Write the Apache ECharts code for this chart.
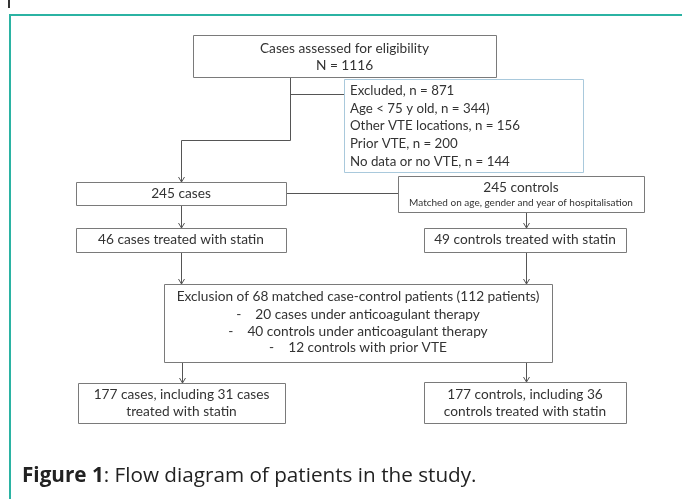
<!DOCTYPE html>
<html><head><meta charset="utf-8">
<script src="https://cdn.jsdelivr.net/npm/echarts@6/dist/echarts.min.js"></script>
<style>html,body{margin:0;padding:0;background:#fff}#c{width:682px;height:499px}</style>
</head><body><div id="c"></div>
<script>
// ---- content (text data) ----
var topBox = ["Cases assessed for eligibility", "N = 1116"];
var excludedLines = ["Excluded, n = 871", "Age < 75 y old, n = 344)", "Other VTE locations, n = 156", "Prior VTE, n = 200", "No data or no VTE, n = 144"];
var casesBox = ["245 cases"];
var controlsBox = ["245 controls"];
var controlsNote = "Matched on age, gender and year of hospitalisation";
var casesStatin = ["46 cases treated with statin"];
var controlsStatin = ["49 controls treated with statin"];
var exclusionLines = ["Exclusion of 68 matched case-control patients (112 patients)", "-    20 cases under anticoagulant therapy", "-    40 controls under anticoagulant therapy", "-    12 controls with prior VTE"];
var finalCases = ["177 cases, including 31 cases", "treated with statin"];
var finalControls = ["177 controls, including 36", "controls treated with statin"];
var captionBold = "Figure 1";
var captionRest = ": Flow diagram of patients in the study.";

// ---- layout ----
var FONT = "Lato, 'Open Sans', sans-serif";
var CAPFONT = "'Open Sans', Lato, sans-serif";
var TXT = "#333333", BOX = "#7a7a7a", LINE = "#555555";
var FS = 13.7;
var g = [];
function rect(x1,y1,x2,y2,stroke){
  g.push({type:'rect',shape:{x:x1+0.5,y:y1+0.5,width:x2-x1,height:y2-y1},style:{fill:'#fff',stroke:stroke||BOX,lineWidth:1},z:2});
}
function text(t,x,y,size,align,color,weight){
  g.push({type:'text',x:x,y:y,style:{text:t,font:(weight||'normal')+' '+size+'px '+FONT,fill:color||TXT,align:align||'center',verticalAlign:'middle'},z:3});
}
function lines(arr,x,ys,size,align){ arr.forEach(function(t,i){ text(t,x,ys[i],size,align); }); }
function poly(pts){ g.push({type:'polyline',shape:{points:pts.map(function(p){return [p[0]+0.5,p[1]+0.5];})},style:{stroke:LINE,lineWidth:1,fill:null},z:1}); }
function arrow(x,y){ // arrow tip at (x,y) pointing down
  g.push({type:'polyline',shape:{points:[[x-3+0.5,y-5],[x+0.5,y],[x+3+0.5,y-5]]},style:{stroke:LINE,lineWidth:1,fill:null},z:4});
}

// frame
g.push({type:'line',shape:{x1:10,y1:15,x2:10,y2:499},style:{stroke:'#2bb3a3',lineWidth:2},z:0});
g.push({type:'line',shape:{x1:9,y1:15,x2:682,y2:15},style:{stroke:'#2bb3a3',lineWidth:2},z:0});
g.push({type:'line',shape:{x1:9,y1:0,x2:9,y2:8},style:{stroke:'#333',lineWidth:2},z:0});

// connectors
poly([[290,77],[290,140],[181,140],[181,182]]); arrow(181,182);
poly([[290,94],[344,94]]);
poly([[286,193],[398,193]]);
poly([[181,205],[181,228]]); arrow(181,228);
poly([[526,212],[526,228]]); arrow(526,228);
poly([[181,252],[181,284]]); arrow(181,284);
poly([[526,252],[526,284]]); arrow(526,284);
poly([[182,362],[182,383]]); arrow(182,383);
poly([[526,362],[526,382]]); arrow(526,382);

// boxes
rect(193,35,496,77); lines(topBox,344.5,[49,66],FS);
rect(344,79,583,172,'#a9c9dc'); lines(excludedLines,350,[91,108.5,126,144,162],13.3,'left');
rect(76,182,286,205); lines(casesBox,181,[194],FS);
rect(398,176,644,212); lines(controlsBox,521,[188],13.7); text(controlsNote,521,203,10);
rect(76,228,286,252); lines(casesStatin,181,[240],FS);
rect(424,228,626,252); lines(controlsStatin,525,[240],FS);
rect(164,284,552,362); lines(exclusionLines,358,[297,315,332,348],FS);
rect(78,383,285,423); lines(finalCases,181.5,[395,412],FS);
rect(424,382,626,423); lines(finalControls,525,[395,412],FS);

// caption
g.push({type:'text',x:22,y:476,style:{text:'{b|'+captionBold+'}{r|'+captionRest+'}',verticalAlign:'middle',align:'left',
  rich:{b:{font:'bold 20.7px '+CAPFONT,fill:'#222'},r:{font:'normal 20.7px '+CAPFONT,fill:'#222'}}},z:3});

var chart = echarts.init(document.getElementById('c'));
chart.setOption({animation:false,backgroundColor:'#fff',graphic:{elements:g}});
</script></body></html>
